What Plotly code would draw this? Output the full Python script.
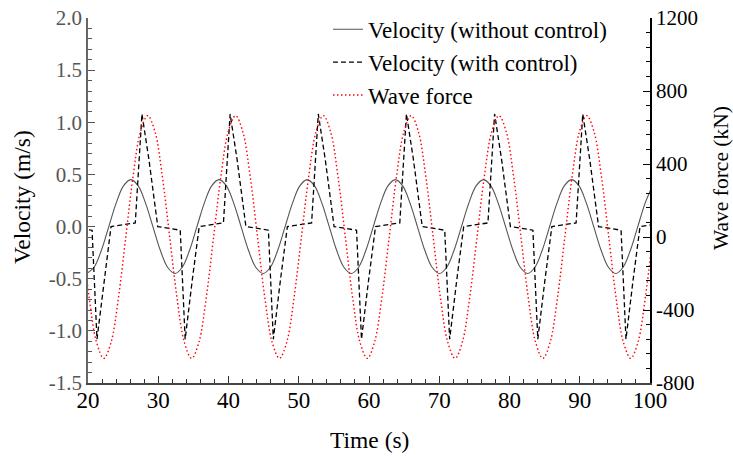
import plotly.graph_objects as go

# ---- data ----
time_without = [19.83, 20.87, 21.92, 22.96, 24.01, 25.05, 26.10, 27.15, 28.19, 29.24, 30.28, 31.33,
                32.38, 33.42, 34.47, 35.51, 36.56, 37.60, 38.65, 39.70, 40.74, 41.79, 42.83, 43.88,
                44.93, 45.97, 47.02, 48.06, 49.11, 50.15, 51.20, 52.25, 53.29, 54.34, 55.38, 56.43,
                57.48, 58.52, 59.57, 60.61, 61.66, 62.70, 63.75, 64.80, 65.84, 66.89, 67.93, 68.98,
                70.03, 71.07, 72.12, 73.16, 74.21, 75.25, 76.30, 77.35, 78.39, 79.44, 80.48, 81.53,
                82.58, 83.62, 84.67, 85.71, 86.76, 87.80, 88.85, 89.90, 90.94, 91.99, 93.03, 94.08,
                95.13, 96.17, 97.22, 98.26, 99.31, 100.35]
vel_without = [-0.45, -0.39, -0.225, 0.0, 0.225, 0.39, 0.45, 0.39, 0.225, 0.0, -0.225, -0.39,
               -0.45, -0.39, -0.225, 0.0, 0.225, 0.39, 0.45, 0.39, 0.225, 0.0, -0.225, -0.39,
               -0.45, -0.39, -0.225, 0.0, 0.225, 0.39, 0.45, 0.39, 0.225, 0.0, -0.225, -0.39,
               -0.45, -0.39, -0.225, 0.0, 0.225, 0.39, 0.45, 0.39, 0.225, 0.0, -0.225, -0.39,
               -0.45, -0.39, -0.225, 0.0, 0.225, 0.39, 0.45, 0.39, 0.225, 0.0, -0.225, -0.39,
               -0.45, -0.39, -0.225, 0.0, 0.225, 0.39, 0.45, 0.39, 0.225, 0.0, -0.225, -0.39,
               -0.45, -0.39, -0.225, 0.0, 0.225, 0.39]

time_with = [19.00, 20.58,
             21.28, 22.28, 23.28, 26.73, 27.68, 28.68, 29.93, 33.13,
             33.83, 34.83, 35.83, 39.28, 40.23, 41.23, 42.48, 45.68,
             46.38, 47.38, 48.38, 51.83, 52.78, 53.78, 55.03, 58.23,
             58.93, 59.93, 60.93, 64.38, 65.33, 66.33, 67.58, 70.78,
             71.48, 72.48, 73.48, 76.93, 77.88, 78.88, 80.13, 83.33,
             84.03, 85.03, 86.03, 89.48, 90.43, 91.43, 92.68, 95.88,
             96.58, 97.58, 98.58, 102.03]
vel_with = [-0.025, -0.035,
            -1.08, -0.52, 0.0, 0.035, 1.08, 0.64, 0.0, -0.035,
            -1.08, -0.52, 0.0, 0.035, 1.08, 0.64, 0.0, -0.035,
            -1.08, -0.52, 0.0, 0.035, 1.08, 0.64, 0.0, -0.035,
            -1.08, -0.52, 0.0, 0.035, 1.08, 0.64, 0.0, -0.035,
            -1.08, -0.52, 0.0, 0.035, 1.08, 0.64, 0.0, -0.035,
            -1.08, -0.52, 0.0, 0.035, 1.08, 0.64, 0.0, -0.035,
            -1.08, -0.52, 0.0, 0.035]

time_force = [19.13, 20.17, 21.21, 22.25, 23.29, 24.33, 25.38, 26.42, 27.46, 28.50, 29.54, 30.58,
              31.63, 32.67, 33.71, 34.75, 35.79, 36.83, 37.88, 38.92, 39.96, 41.00, 42.04, 43.08,
              44.13, 45.17, 46.21, 47.25, 48.29, 49.33, 50.38, 51.42, 52.46, 53.50, 54.54, 55.58,
              56.63, 57.67, 58.71, 59.75, 60.79, 61.83, 62.88, 63.92, 64.96, 66.00, 67.04, 68.08,
              69.13, 70.17, 71.21, 72.25, 73.29, 74.33, 75.38, 76.42, 77.46, 78.50, 79.54, 80.58,
              81.63, 82.67, 83.71, 84.75, 85.79, 86.83, 87.88, 88.92, 89.96, 91.00, 92.04, 93.08,
              94.13, 95.17, 96.21, 97.25, 98.29, 99.33, 100.38]
wave_force = [0, -333, -576, -665, -576, -333, 0, 333, 576, 665, 576, 333,
              0, -333, -576, -665, -576, -333, 0, 333, 576, 665, 576, 333,
              0, -333, -576, -665, -576, -333, 0, 333, 576, 665, 576, 333,
              0, -333, -576, -665, -576, -333, 0, 333, 576, 665, 576, 333,
              0, -333, -576, -665, -576, -333, 0, 333, 576, 665, 576, 333,
              0, -333, -576, -665, -576, -333, 0, 333, 576, 665, 576, 333,
              0, -333, -576, -665, -576, -333, 0]

x_tick_vals = [20, 30, 40, 50, 60, 70, 80, 90, 100]
x_tick_text = ["20", "30", "40", "50", "60", "70", "80", "90", "100"]
y_tick_vals = [-1.5, -1.0, -0.5, 0.0, 0.5, 1.0, 1.5, 2.0]
y_tick_text = ["-1.5", "-1.0", "-0.5", "0.0", "0.5", "1.0", "1.5", "2.0"]
y2_tick_vals = [-800, -400, 0, 400, 800, 1200]
y2_tick_text = ["-800", "-400", "0", "400", "800", "1200"]

series_names = ["Velocity (without control)", "Velocity (with control)", "Wave force"]
x_title = "Time (s)"
y_title = "Velocity (m/s)"
y2_title = "Wave force (kN)"

FONT = "Liberation Serif"

fig = go.Figure()
fig.add_trace(go.Scatter(x=time_without, y=vel_without, mode="lines", name=series_names[0],
                         line=dict(color="#555555", width=1.1, shape="spline")))
fig.add_trace(go.Scatter(x=time_with, y=vel_with, mode="lines", name=series_names[1],
                         line=dict(color="#000000", width=1.3, dash="5px,3px")))
fig.add_trace(go.Scatter(x=time_force, y=wave_force, mode="lines", name=series_names[2], yaxis="y2",
                         line=dict(color="#ff0000", width=1.4, dash="1.5px,2.5px", shape="spline")))

fig.update_layout(
    width=733, height=456, autosize=False,
    margin=dict(l=88, r=83, t=18, b=73, autoexpand=False),
    paper_bgcolor="white", plot_bgcolor="white",
    font=dict(family=FONT, size=21, color="#000000"),
    showlegend=True,
    legend=dict(x=0.427, y=1.028, xanchor="left", yanchor="top", bgcolor="rgba(0,0,0,0)",
                font=dict(family=FONT, size=23, color="#000000"), tracegroupgap=0),
    xaxis=dict(range=[20, 100], tickmode="array", tickvals=x_tick_vals, ticktext=x_tick_text,
               ticks="inside", ticklen=7, tickwidth=1.2, tickcolor="#333333",
               minor=dict(tickmode="linear", tick0=20, dtick=2, ticks="inside", ticklen=4,
                          tickcolor="#333333", tickwidth=1),
               showline=True, linecolor="#444444", linewidth=1.5, showgrid=False, zeroline=False,
               automargin=False, ticklabelstandoff=-4, ticklabeloverflow="allow",
               tickfont=dict(family=FONT, size=23, color="#000000")),
    yaxis=dict(range=[-1.5, 2.0], tickmode="array", tickvals=y_tick_vals, ticktext=y_tick_text,
               ticks="inside", ticklen=7, tickwidth=1.2, tickcolor="#555555",
               minor=dict(tickmode="linear", tick0=0, dtick=0.1, ticks="inside", ticklen=4,
                          tickcolor="#555555", tickwidth=1),
               showline=True, linecolor="#666666", linewidth=1.5, showgrid=False, zeroline=False,
               automargin=False, ticklabeloverflow="allow",
               tickfont=dict(family=FONT, size=21, color="#555555")),
    yaxis2=dict(range=[-800, 1200], overlaying="y", side="right", tickmode="array",
                tickvals=y2_tick_vals, ticktext=y2_tick_text,
                ticks="inside", ticklen=7, tickwidth=1.2, tickcolor="#000000",
                minor=dict(tickmode="linear", tick0=0, dtick=80, ticks="inside", ticklen=4,
                           tickcolor="#000000", tickwidth=1),
                showline=True, linecolor="#000000", linewidth=1.5, showgrid=False, zeroline=False,
                automargin=False, ticklabeloverflow="allow",
                tickfont=dict(family=FONT, size=21, color="#000000")),
    annotations=[
        dict(text=x_title, xref="paper", yref="paper", x=0.5, y=-0.156, xanchor="center",
             yanchor="middle", showarrow=False, font=dict(family=FONT, size=23.5, color="#000000")),
        dict(text=y_title, xref="paper", yref="paper", x=-0.1174, y=0.5096, xanchor="center",
             yanchor="middle", textangle=-90, showarrow=False,
             font=dict(family=FONT, size=23.5, color="#000000")),
        dict(text=y2_title, xref="paper", yref="paper", x=1.1263, y=0.5616, xanchor="center",
             yanchor="middle", textangle=-90, showarrow=False,
             font=dict(family=FONT, size=21.5, color="#000000")),
    ],
)

fig.write_html("out.html", config={"displayModeBar": False},
               post_script="document.body.style.margin='0';")
